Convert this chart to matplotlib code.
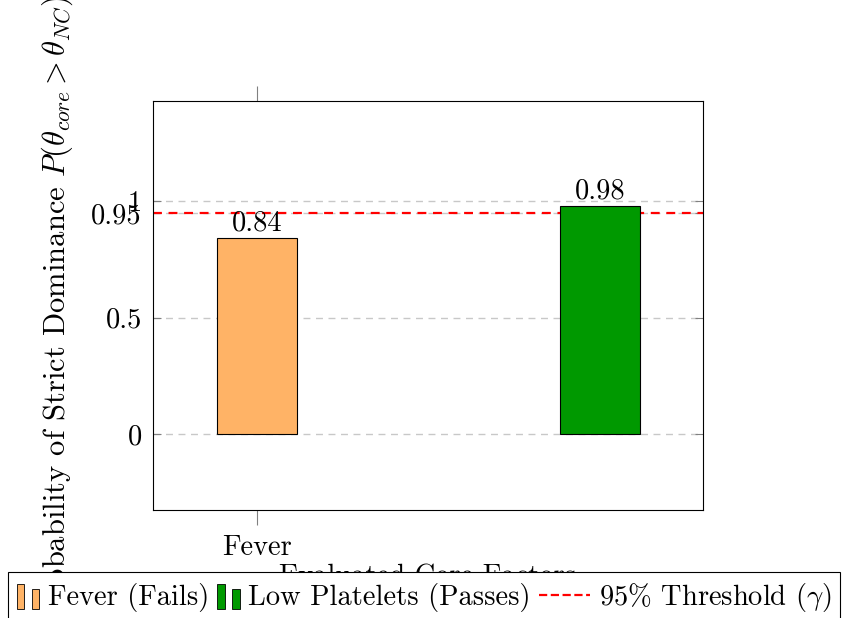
import matplotlib
matplotlib.use('Agg')
import matplotlib.pyplot as plt
from matplotlib.patches import Rectangle
from matplotlib.legend_handler import HandlerBase
from matplotlib.lines import Line2D

plt.rcParams['font.family'] = 'cmr10'
plt.rcParams['mathtext.fontset'] = 'cm'
plt.rcParams['axes.formatter.use_mathtext'] = True

# data
factors = ['Fever', 'Low Platelets']
dominance = [0.84, 0.98]
bar_labels = ['Fever (Fails)', 'Low Platelets (Passes)']
bar_colors = ['#FFB366', '#009900']
threshold = 0.95
y_ticks = [0, 0.5, 1]

FS = 20.5


class DoubleBarHandler(HandlerBase):
    """pgfplots-style ybar legend icon: two small bars."""
    def create_artists(self, legend, orig_handle, xdescent, ydescent,
                       width, height, fontsize, trans):
        w = width * 0.33
        x0 = -xdescent
        y0 = -ydescent - height * 0.2
        r1 = Rectangle((x0, y0), w, height * 1.25,
                       facecolor=orig_handle.get_facecolor(),
                       edgecolor='black', linewidth=0.6, transform=trans)
        r2 = Rectangle((x0 + width - w, y0), w, height * 1.0,
                       facecolor=orig_handle.get_facecolor(),
                       edgecolor='black', linewidth=0.6, transform=trans)
        return [r1, r2]


class LongLineHandler(HandlerBase):
    """dashed line that reaches back into the gap left of its box."""
    def create_artists(self, legend, orig_handle, xdescent, ydescent,
                       width, height, fontsize, trans):
        y = -ydescent + height / 2
        ln = Line2D([-xdescent - fontsize * 1.0, -xdescent + width], [y, y],
                    color=orig_handle.get_color(), linestyle=orig_handle.get_linestyle(),
                    linewidth=orig_handle.get_linewidth(), transform=trans)
        return [ln]


fig = plt.figure(figsize=(8.46, 6.18), dpi=100)
ax = fig.add_axes([153 / 846, 1 - 510 / 618, 550 / 846, 409 / 618])

x = range(len(factors))
ax.bar(x, dominance, width=0.233, color=bar_colors,
       edgecolor='black', linewidth=0.8, zorder=3)
for xi, v in zip(x, dominance):
    ax.text(xi, v + 0.008, f'{v:.2f}', ha='center', va='bottom', fontsize=FS)

ax.axhline(threshold, color='red', linestyle=(0, (4, 3)), linewidth=1.6, zorder=2)

ax.set_xlim(-0.303, 1.30)
ax.set_ylim(-0.325, 1.43)
ax.set_yticks(y_ticks + [threshold])
ax.set_yticklabels(['0', '0.5', '1', '0.95'], fontsize=FS)
ax.set_xticks([0])
ax.set_xticklabels([factors[0]], fontsize=FS)
ax.yaxis.grid(True, color='#c8c8c8', linestyle=(0, (5, 4)), linewidth=1.0, zorder=0)
ax.tick_params(axis='x', direction='out', top=True, color='grey', length=11, pad=7)
ax.tick_params(axis='y', direction='in', right=True, color='grey', length=6, pad=8)

ax.set_xlabel('Evaluated Core Factors', fontsize=FS, labelpad=2)
ax.set_ylabel(r'Probability of Strict Dominance $P(\theta_{core} > \theta_{NC})$',
              fontsize=22)
ax.yaxis.set_label_coords(-0.142, 0.5)

handles = [Rectangle((0, 0), 1, 1, facecolor=c) for c in bar_colors]
thr_handle = Line2D([], [], color='red', linestyle=(0, (3.6, 6.3)), linewidth=1.6)
handles.append(thr_handle)
# trailing spaces leave room for the longer dashed sample
labels = [bar_labels[0], bar_labels[1] + '   ', r'95% Threshold ($\gamma$)']
leg = fig.legend(handles, labels, loc='upper left', bbox_to_anchor=(8 / 846, 1 - 572 / 618),
                 ncol=3, fontsize=FS, frameon=True, fancybox=False, framealpha=1,
                 edgecolor='black', borderpad=0.3, borderaxespad=0,
                 handlelength=0.8, handletextpad=0.3, columnspacing=0.28,
                 handler_map={Rectangle: DoubleBarHandler(), Line2D: LongLineHandler()})
leg.get_frame().set_linewidth(0.8)

fig.savefig('out.png', dpi=100)
